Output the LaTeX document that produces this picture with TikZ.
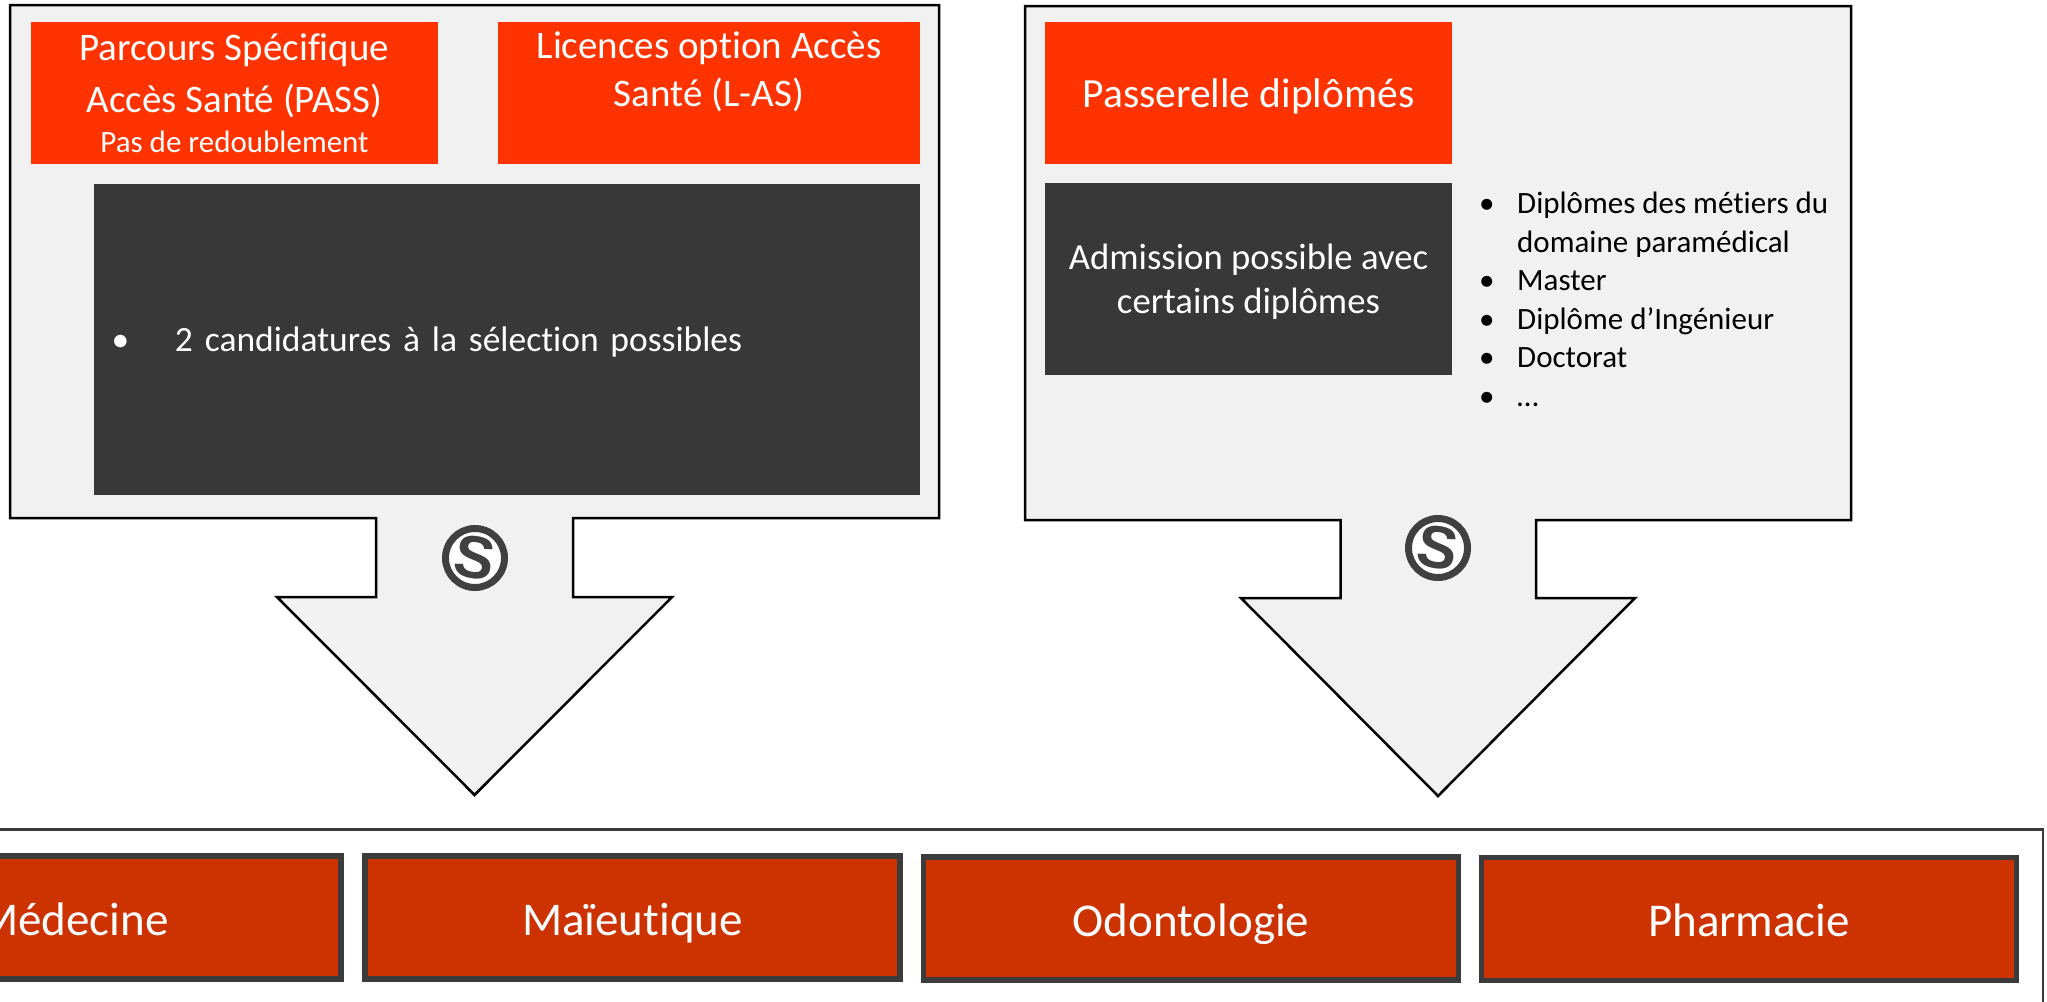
\documentclass[tikz,border=0pt]{standalone}
\usepackage{fontspec}
\setmainfont[Ligatures=CommonOff]{Carlito}
\newfontfamily\logofont{Liberation Sans Bold}
\newcommand{\puce}{\makebox[38pt][l]{•}}
\begin{document}
\begin{tikzpicture}[x=1pt,y=-1pt]
		\tikzset{panel/.style = {draw=black,line width=2.5pt,fill=panelgray,line join=miter}}
		\tikzset{redbox/.style = {shape=rectangle,fill=brightred,text=white,align=center,font=\fontsize{39}{48}\selectfont,minimum width=#1,minimum height=142pt,text depth=0pt}}
		\tikzset{darkbox/.style = {shape=rectangle,fill=darkgray,text=white,font=\fontsize{36.7}{44}\selectfont,text depth=0pt}}
		\tikzset{course/.style = {shape=rectangle,draw=borderdark,line width=5.5pt,fill=coursered,text=white,font=\fontsize{47}{50}\selectfont,minimum width=535pt,minimum height=123pt,text height=35pt,text depth=0pt}}
		\tikzset{logo/.style = {shape=circle,draw=logogray,line width=7pt,fill=white,text=logogray,inner sep=0pt,minimum size=59pt,rotate=-10,font=\fontsize{60}{60}\logofont}}
		\definecolor{panelgray}{HTML}{F1F1F1}
		\definecolor{brightred}{HTML}{FF3300}
		\definecolor{darkgray}{HTML}{383838}
		\definecolor{coursered}{HTML}{CC3300}
		\definecolor{borderdark}{HTML}{3B3B3B}
		\definecolor{logogray}{HTML}{404040}
		\clip (0,0) rectangle (2047,1001);
		\fill[white] (0,0) rectangle (2047,1001);
		% panels with their arrows
		\draw[panel] (10,5) -- (939,5) -- (939,518) -- (573,518) -- (573,597) -- (672,597) -- (474.5,795) -- (277,597) -- (376,597) -- (376,518) -- (10,518) -- cycle;
		\draw[panel] (1025,6) -- (1851,6) -- (1851,520) -- (1536,520) -- (1536,598) -- (1635,598) -- (1438,796) -- (1241,598) -- (1340.5,598) -- (1340.5,520) -- (1025,520) -- cycle;
		\draw[draw=borderdark,line width=2.5pt] (-20,829.5) rectangle (2043,1040);
		% left panel
		\node[redbox=407pt,text depth=-2.5pt] (pass) at (234.5,93) {Parcours Spécifique\\[4pt]Accès Santé (PASS)\\[-8pt]{\fontsize{31}{34}\selectfont Pas de redoublement}};
		\node[redbox=422pt,text depth=-2.5pt] (las) at (709,93) {Licences option Accès\\Santé (L-AS)\\ };
		\node[darkbox,text width=791pt,inner xsep=17.5pt,minimum height=311pt,align=left,font=\fontsize{35.5}{44}\selectfont] (cand) at (507,339.5) {\makebox[63.5pt][l]{•}2 candidatures à la sélection possibles};
		\node[logo] (logoa) at (475,558) {\makebox[0pt]{S}};
		% right panel
		\node[redbox=407pt,font=\fontsize{41.5}{48}\selectfont] (pont) at (1248.5,93) {Passerelle diplômés};
		\node[darkbox,minimum width=407pt,minimum height=192pt,align=center] (adm) at (1248.5,279) {Admission possible avec\\certains diplômes};
		\node[anchor=north west,inner sep=0pt,align=left,font=\fontsize{31}{38.5}\selectfont] (dipl) at (1479,192) {\puce Diplômes des métiers du\\\hspace*{38pt}domaine paramédical\\\puce Master\\\puce Diplôme d’Ingénieur\\\puce Doctorat\\\puce …};
		\node[logo] (logob) at (1438,548) {\makebox[0pt]{S}};
		% formations
		\node[course] (med) at (73.5,917.5) {Médecine};
		\node[course] (mai) at (632.5,917.5) {Maïeutique};
		\node[course] (odo) at (1191,918.5) {Odontologie};
		\node[course] (pha) at (1749,919) {Pharmacie};
	\end{tikzpicture}
\end{document}
